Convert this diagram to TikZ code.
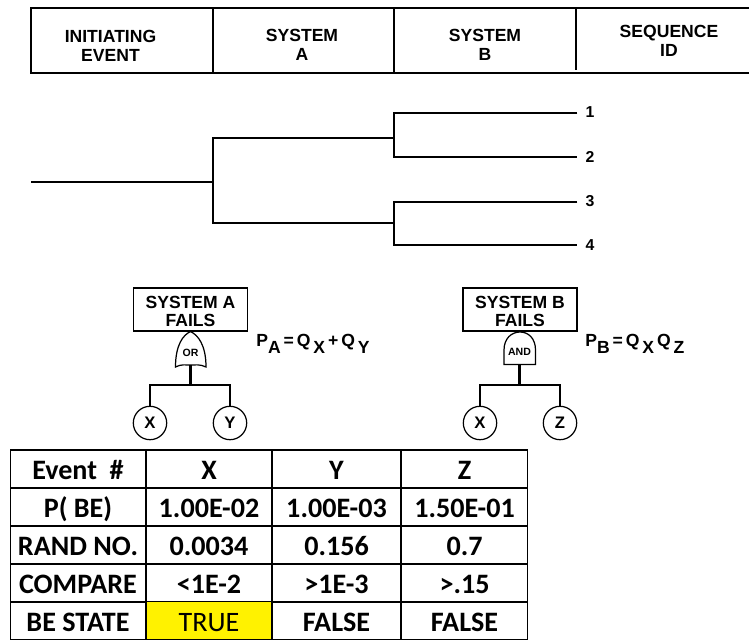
\documentclass[tikz,border=0pt]{standalone}
\usepackage{fontspec}
\setmainfont{Liberation Sans}
\newfontfamily\calfont{Carlito}
\usetikzlibrary{positioning, calc}
\newcommand{\lowtxt}[1]{\raisebox{-3.6pt}{#1}}

\begin{document}
\begin{tikzpicture}[x=0.02cm, y=-0.02cm, line cap=butt,
            hdr/.style={font=\fontsize{10}{10.6}\selectfont\bfseries, align=center, inner sep=0pt},
            branch/.style={line width=1pt},
            seqid/.style={font=\fontsize{9}{9}\selectfont\bfseries, inner sep=0pt},
            failbox/.style={draw, line width=0.7pt, rectangle, minimum width=65pt, minimum height=24.4pt, inner sep=0pt, align=center, font=\fontsize{10}{10.2}\selectfont\bfseries},
            evt/.style={draw, line width=0.7pt, circle, minimum size=19pt, inner sep=0pt, font=\fontsize{9.5}{10}\selectfont\bfseries},
            gatetxt/.style={inner sep=0pt, font=\fontsize{6}{6}\selectfont\bfseries},
            formula/.style={anchor=west, inner sep=0pt, font=\fontsize{10}{10}\selectfont\bfseries},
            cell/.style={draw, line width=0.8pt, rectangle, minimum height=21.55pt, inner sep=0pt, text height=12pt, text depth=0pt, font=\fontsize{16}{16}\calfont\bfseries},
            col0/.style={cell, minimum width=77.1pt},
            col1/.style={cell, minimum width=71.4pt},
            col2/.style={cell, minimum width=73.1pt},
            col3/.style={cell, minimum width=72pt}]

            \useasboundingbox (0,0) rectangle (749,641);

            % header row
            \coordinate (hdrnw) at (31,8);
            \coordinate (hdrsw) at (31,73);
            \coordinate (hdrne) at (749,8);
            \coordinate (hdrse) at (749,73);
            \draw[line width=0.7pt] (hdrne) -- (hdrnw) -- (hdrsw) -- (hdrse);
            \foreach \hx/\hy in {213/73, 394/73, 576/70}
                \draw[line width=0.7pt] (\hx,8) -- (\hx,\hy);
            \node[hdr] (hinit) at (110.5,46) {INITIATING\\EVENT};
            \node[hdr] (hsysa) at (302,45) {SYSTEM\\A};
            \node[hdr] (hsysb) at (485,45) {SYSTEM\\B};
            \node[hdr] (hseq) at (669,41) {SEQUENCE\\ID};

            % event tree
            \node[seqid] (s1) at (590,112) {1};
            \node[seqid] (s2) at (590,157) {2};
            \node[seqid] (s3) at (590,201) {3};
            \node[seqid] (s4) at (590,245) {4};
            \coordinate (ie) at (31,182);
            \coordinate (ja) at (213,182);
            \coordinate (jb1) at (394,138);
            \coordinate (jb2) at (394,223);
            \draw[branch] (ie) -- (ja);
            \draw[branch] (jb1) -| (ja) |- (jb2);
            \draw[branch] (s1.west) ++(-8,1) -| (jb1) |- ($(s2.west)+(-8,0)$);
            \draw[branch] (s3.west) ++(-8,1) -| (jb2) |- ($(s4.west)+(-8,0)$);

            % fault tree of system A
            \node[failbox] (faila) at (190.5,309.5) {\rule{0pt}{9.7pt}SYSTEM A\\FAILS};
            \node[gatetxt] (orgate) at (190.5,353) {OR};
            \coordinate (orbot) at (190.5,365);
            \coordinate (orj) at (190.5,385);
            \draw[line width=0.7pt] (faila.south) .. controls (198,335) and (206,345) .. (206,367)
                .. controls (200,364) and (195,365) .. (orbot)
                .. controls (186,365) and (181,364) .. (175.5,367)
                .. controls (175.5,345) and (183,335) .. (faila.south);
            \node[evt] (xa) at (150,423) {X};
            \node[evt] (ya) at (230,423) {Y};
            \draw[line width=1.3pt] (orbot) -- (orj);
            \draw[branch] (xa.north) |- (orj) -| (ya.north);
            \node[formula] (pa) at (256,344) {P\lowtxt{A}\,=\,Q\,\lowtxt{X}\,+\,Q\,\lowtxt{Y}};

            % fault tree of system B
            \node[failbox] (failb) at (520,309.5) {\rule{0pt}{9.7pt}SYSTEM B\\FAILS};
            \node[gatetxt] (andgate) at (519.5,352) {AND};
            \coordinate (andbot) at (519.5,364.5);
            \coordinate (andj) at (519.5,385);
            \draw[line width=0.7pt] (504,364.5) -- (504,350) .. controls (504,338) and (512,332) .. (520,332)
                .. controls (528,332) and (535.5,338) .. (535.5,350) -- (535.5,364.5) -- cycle;
            \node[evt] (xb) at (480,423) {X};
            \node[evt] (zb) at (560,423) {Z};
            \draw[line width=1.3pt] (andbot) -- (andj);
            \draw[branch] (xb.north) |- (andj) -| (zb.north);
            \node[formula] (pb) at (585,344) {P\lowtxt{B}\,=\,Q\,\lowtxt{X}\,Q\,\lowtxt{Z}};

            % table
            \foreach \rowid/\rowy/\labtxt/\xtxt/\ytxt/\ztxt in {
                    ev/469/Event~~\#/X/Y/Z,
                    pb/507/P( BE)/1.00E-02/1.00E-03/1.50E-01,
                    rn/545/RAND NO./0.0034/0.156/0.7,
                    cp/583/COMPARE/<1E-2/>1E-3/>.15,
                    bs/620.5/BE STATE/{}/FALSE/FALSE} {
                \node[col0] (lab\rowid) at (78,\rowy) {\labtxt};
                \node[col1] (x\rowid) at (209,\rowy) {\xtxt};
                \node[col2] (y\rowid) at (336.5,\rowy) {\ytxt};
                \node[col3] (z\rowid) at (464.5,\rowy) {\ztxt};
            }
            \node[col1, fill=yellow, font=\fontsize{16}{16}\calfont] (xtrue) at (209,620.5) {TRUE};
        \end{tikzpicture}
\end{document}
